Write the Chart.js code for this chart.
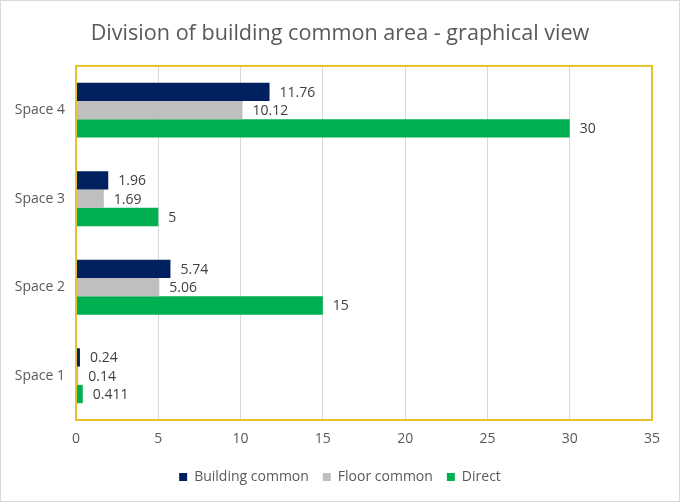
<!DOCTYPE html>
<html>
<head>
<meta charset="utf-8">
<script src="https://cdn.jsdelivr.net/npm/chart.js@4"></script>
<style>
  html, body { margin: 0; padding: 0; background: #fff; }
  #wrap { width: 680px; height: 502px; }
</style>
</head>
<body>
<div id="wrap"><canvas id="chart" width="680" height="502"></canvas></div>
<script>
const spaces = ['Space 4', 'Space 3', 'Space 2', 'Space 1'];
const buildingCommon = [11.76, 1.96, 5.74, 0.24];
const floorCommon = [10.12, 1.69, 5.06, 0.14];
const direct = [30, 5, 15, 0.411];

const textColor = '#595959';
const fontName = "'Open Sans', 'Noto Sans', sans-serif";

// white background + thin grey outline round the whole chart
const frame = {
    id: 'frame',
    beforeDraw(chart) {
        const ctx = chart.ctx;
        ctx.save();
        ctx.fillStyle = '#fff';
        ctx.fillRect(0, 0, chart.width, chart.height);
        ctx.strokeStyle = '#d9d9d9';
        ctx.lineWidth = 1;
        ctx.strokeRect(0.5, 0.5, chart.width - 1, chart.height - 1);
        ctx.restore();
    },
    afterDatasetsDraw(chart) {
        const a = chart.chartArea;
        const ctx = chart.ctx;
        ctx.save();
        ctx.strokeStyle = '#e6c229';
        ctx.lineWidth = 2;
        ctx.strokeRect(a.left, a.top, a.right - a.left, a.bottom - a.top);
        ctx.restore();
    }
};

// value labels at the end of each bar
const barLabels = {
    id: 'barLabels',
    afterDraw(chart) {
        const ctx = chart.ctx;
        ctx.save();
        ctx.font = '14px ' + fontName;
        ctx.fillStyle = '#404040';
        ctx.textAlign = 'left';
        ctx.textBaseline = 'middle';
        chart.data.datasets.forEach((ds, i) => {
            chart.getDatasetMeta(i).data.forEach((bar, j) => {
                ctx.fillText(String(ds.data[j]), bar.x + 10, bar.y + 1);
            });
        });
        ctx.restore();
    }
};

new Chart(document.getElementById('chart'), {
    type: 'bar',
    data: {
        labels: spaces,
        datasets: [
            { label: 'Building common', data: buildingCommon, backgroundColor: '#002060' },
            { label: 'Floor common', data: floorCommon, backgroundColor: '#bfbfbf' },
            { label: 'Direct', data: direct, backgroundColor: '#00b050' }
        ]
    },
    options: {
        indexAxis: 'y',
        responsive: false,
        animation: false,
        devicePixelRatio: 1,
        categoryPercentage: 0.62,
        barPercentage: 1,
        layout: { padding: { left: 0, right: 0, top: 0, bottom: 8 } },
        scales: {
            x: {
                min: 0,
                max: 35,
                ticks: { stepSize: 5, color: textColor, font: { family: fontName, size: 14 }, padding: 11 },
                grid: { color: '#d9d9d9', drawTicks: false },
                border: { display: false },
                afterFit(scale) { scale.height = 36; }
            },
            y: {
                ticks: { color: textColor, font: { family: fontName, size: 14 }, padding: 11 },
                grid: { display: false, drawTicks: false },
                border: { display: false },
                afterFit(scale) { scale.width = 76; }
            },
            // empty right-hand spacer so the plot ends at the same place as the original
            y2: {
                type: 'category',
                position: 'right',
                ticks: { display: false },
                grid: { display: false, drawTicks: false },
                border: { display: false },
                afterFit(scale) { scale.width = 28; }
            }
        },
        plugins: {
            title: {
                display: true,
                text: 'Division of building common area - graphical view',
                color: textColor,
                font: { family: fontName, size: 21.6, weight: 'normal' },
                padding: { top: 21, bottom: 19 }
            },
            legend: {
                position: 'bottom',
                labels: {
                    color: textColor,
                    font: { family: fontName, size: 14 },
                    boxWidth: 8,
                    boxHeight: 8,
                    padding: 14
                }
            },
            tooltip: { enabled: false }
        }
    },
    plugins: [frame, barLabels]
});
</script>
</body>
</html>
